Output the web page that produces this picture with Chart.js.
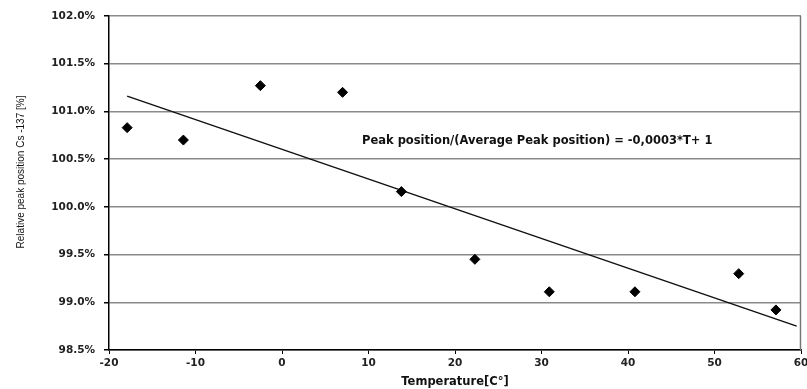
<!DOCTYPE html>
<html>
<head>
<meta charset="utf-8">
<script src="https://cdn.jsdelivr.net/npm/chart.js@4"></script>
<style>
    html, body { margin: 0; padding: 0; background: #fff; }
    #wrap { width: 807px; height: 389px; }
</style>
</head>
<body>
<div id="wrap"><canvas id="chart" width="807" height="389"></canvas></div>
<script>
// Measured points: temperature (°C) vs relative Cs-137 peak position (%)
const temperatures = [-17.9, -11.4, -2.5, 7.0, 13.8, 22.3, 30.9, 40.8, 52.8, 57.1];
const relPeak = [100.83, 100.70, 101.27, 101.20, 100.16, 99.45, 99.11, 99.11, 99.30, 98.92];

// Linear trendline end points
const trendT = [-17.9, 59.5];
const trendY = [101.16, 98.75];

const xTicks = [-20, -10, 0, 10, 20, 30, 40, 50, 60];
const yTicks = [98.5, 99.0, 99.5, 100.0, 100.5, 101.0, 101.5, 102.0];

const equationText = "Peak position/(Average Peak position) = -0,0003*T+ 1";
const yTitle = "Relative peak position Cs -137 [%]";

const FONT = "'DejaVu Sans', sans-serif";

// Draws the trendline equation, the y title and the right frame line
const extrasPlugin = {
    id: "extras",
    afterDraw(chart) {
        const ctx = chart.ctx;
        const area = chart.chartArea;
        ctx.save();
        ctx.strokeStyle = "#777";
        ctx.lineWidth = 1.5;
        ctx.beginPath();
        ctx.moveTo(area.right - 0.5, area.top);
        ctx.lineTo(area.right - 0.5, area.bottom);
        ctx.stroke();

        ctx.fillStyle = "#111";
        ctx.font = "bold 11.5px " + FONT;
        ctx.textBaseline = "middle";
        ctx.fillText(equationText, 362, 141);

        // y axis title sits a bit above the plot centre in the original
        ctx.translate(21, 172);
        ctx.rotate(-Math.PI / 2);
        ctx.textAlign = "center";
        ctx.font = "10px 'Liberation Sans', sans-serif";
        ctx.fillText(yTitle, 0, 0);
        ctx.restore();
    },
};

const scatterData = temperatures.map((t, i) => ({ x: t, y: relPeak[i] }));
const trendData = trendT.map((t, i) => ({ x: t, y: trendY[i] }));

new Chart(document.querySelector("#chart"), {
    type: "scatter",
    data: {
        datasets: [
            {
                label: "Measured",
                data: scatterData,
                pointStyle: "rectRot",
                pointRadius: 5,
                backgroundColor: "#000",
                borderColor: "#000",
                borderWidth: 1,
            },
            {
                label: "Trend",
                type: "line",
                data: trendData,
                borderColor: "#111",
                borderWidth: 1.5,
                pointRadius: 0,
                fill: false,
            },
        ],
    },
    options: {
        responsive: false,
        animation: false,
        devicePixelRatio: 1,
        layout: {
            padding: { top: 16, right: 2, left: 0, bottom: 0 },
        },
        plugins: {
            legend: { display: false },
            tooltip: { enabled: false },
        },
        scales: {
            x: {
                type: "linear",
                min: -20,
                max: 60,
                afterBuildTicks: (scale) => {
                    scale.ticks = xTicks.map((v) => ({ value: v }));
                },
                afterFit: (scale) => {
                    scale.height = 39;
                    scale.paddingLeft = 0;
                    scale.paddingRight = 0;
                },
                border: { color: "#000", width: 1.5 },
                grid: {
                    drawOnChartArea: false,
                    drawTicks: true,
                    tickLength: 4,
                    tickColor: "#000",
                },
                ticks: {
                    color: "#222",
                    padding: 3,
                    maxRotation: 0,
                    autoSkip: false,
                    font: { family: FONT, size: 10.5, weight: "bold" },
                },
                title: {
                    display: true,
                    text: "Temperature[C°]",
                    color: "#111",
                    padding: { top: 0, bottom: 0 },
                    font: { family: FONT, size: 11.5, weight: "bold" },
                },
            },
            y: {
                type: "linear",
                min: 98.5,
                max: 102,
                afterBuildTicks: (scale) => {
                    scale.ticks = yTicks.map((v) => ({ value: v }));
                },
                afterFit: (scale) => {
                    scale.width = 109;
                    scale.paddingTop = 0;
                    scale.paddingBottom = 0;
                },
                border: { color: "#000", width: 1.5 },
                grid: {
                    color: "#8a8a8a",
                    lineWidth: 1.5,
                    drawTicks: true,
                    tickLength: 5,
                    tickColor: "#000",
                },
                ticks: {
                    color: "#222",
                    padding: 9,
                    autoSkip: false,
                    font: { family: FONT, size: 10.5, weight: "bold" },
                    callback: (value) => value.toFixed(1) + "%",
                },
            },
        },
    },
    plugins: [extrasPlugin],
});
</script>
</body>
</html>
